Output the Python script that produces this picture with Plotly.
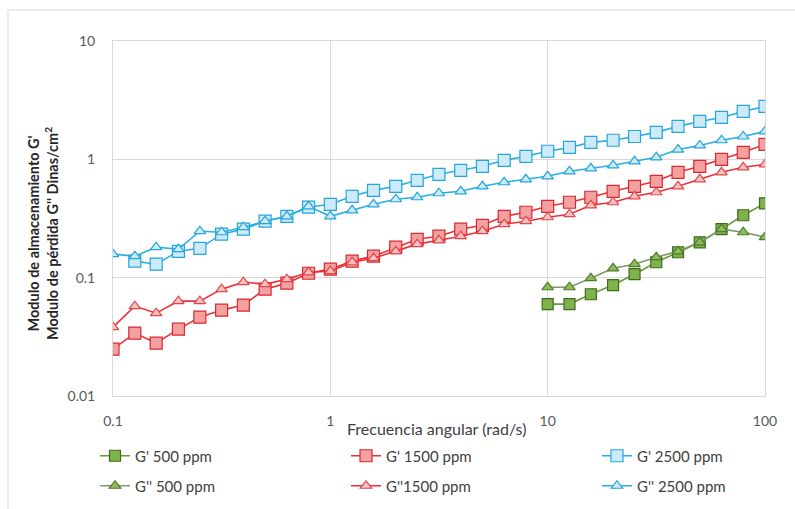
import plotly.graph_objects as go

# angular frequency grid (rad/s), 10 points per decade
freq_all = [0.1, 0.126, 0.158, 0.2, 0.251, 0.316, 0.398, 0.501, 0.631, 0.794,
            1.0, 1.26, 1.58, 2.0, 2.51, 3.16, 3.98, 5.01, 6.31, 7.94,
            10.0, 12.6, 15.8, 20.0, 25.1, 31.6, 39.8, 50.1, 63.1, 79.4, 100.0]

freq_500 = freq_all[20:]
freq_2500_gp = freq_all[1:]

gp_500 = [0.0598, 0.0598, 0.0724, 0.0866, 0.107, 0.135, 0.164, 0.199, 0.257, 0.337, 0.425]
gpp_500 = [0.083, 0.083, 0.099, 0.12, 0.13, 0.149, 0.167, 0.199, 0.257, 0.242, 0.22]

gp_1500 = [0.0249, 0.0340, 0.0280, 0.0367, 0.0464, 0.0532, 0.0586, 0.0800, 0.0899, 0.109,
           0.118, 0.138, 0.152, 0.181, 0.211, 0.224, 0.257, 0.277, 0.330, 0.357,
           0.401, 0.434, 0.478, 0.537, 0.592, 0.652, 0.777, 0.873, 1.0, 1.146, 1.338]
gpp_1500 = [0.0382, 0.0575, 0.0501, 0.0633, 0.0633, 0.0800, 0.0916, 0.0882, 0.0971, 0.111,
            0.1135, 0.135, 0.146, 0.167, 0.192, 0.207, 0.224, 0.247, 0.283, 0.300,
            0.324, 0.344, 0.409, 0.434, 0.487, 0.527, 0.592, 0.678, 0.777, 0.856, 0.907]

gp_2500 = [0.138, 0.130, 0.167, 0.177, 0.233, 0.257, 0.300, 0.330, 0.394, 0.417,
           0.487, 0.547, 0.592, 0.665, 0.747, 0.808, 0.873, 0.981, 1.06, 1.17,
           1.26, 1.39, 1.45, 1.56, 1.69, 1.90, 2.09, 2.26, 2.54, 2.80]
gpp_2500 = [0.158, 0.152, 0.181, 0.174, 0.247, 0.242, 0.267, 0.300, 0.330, 0.401,
            0.330, 0.371, 0.417, 0.460, 0.478, 0.517, 0.537, 0.592, 0.640, 0.678,
            0.719, 0.792, 0.840, 0.890, 0.962, 1.04, 1.21, 1.31, 1.45, 1.56, 1.72]

x_ticks = [0.1, 1, 10, 100]
x_tick_text = ["0.1", "1", "10", "100"]
y_ticks = [0.01, 0.1, 1, 10]
y_tick_text = ["0.01", "0.1", "1", "10"]

series = [
    ("G' 500 ppm", freq_500, gp_500, "square", "#6a9a3a", "#7fb24a", "#3f6b1f", 11),
    ("G' 1500 ppm", freq_all, gp_1500, "square", "#ee2f36", "#f2a0a0", "#d9282f", 12),
    ("G' 2500 ppm", freq_2500_gp, gp_2500, "square", "#27b0e6", "#cdeaf8", "#27a4d8", 12),
    ("G'' 500 ppm", freq_500, gpp_500, "triangle-up", "#7d9a68", "#8fbc5a", "#4d7a2a", 10),
    ("G''1500 ppm", freq_all, gpp_1500, "triangle-up", "#ee2f36", "#f7c0c0", "#e0474c", 10),
    ("G'' 2500 ppm", freq_all, gpp_2500, "triangle-up", "#27b0e6", "#cdeaf8", "#27a4d8", 10),
]

# plot area in pixels: left 113, right 765, top 41, bottom 396
PL, PR, PT, PB = 113, 765, 41, 396
def px_x(x):
    return (x - PL) / (PR - PL)
def px_y(y):
    return (PB - y) / (PB - PT)

legend_pos = [(95, 456), (346, 456), (597, 456), (95, 486), (346, 486), (597, 486)]

fig = go.Figure()
legend_layouts = {}
for i, (name, xs, ys, sym, lc, fc, ec, sz) in enumerate(series):
    lid = "legend" if i == 0 else f"legend{i+1}"
    fig.add_trace(go.Scatter(
        x=xs, y=ys, name=name, mode="lines+markers", legend=lid,
        line=dict(color=lc, width=1.6),
        marker=dict(symbol=sym, size=sz, color=fc, line=dict(color=ec, width=1.2)),
    ))
    lx, ly = legend_pos[i]
    legend_layouts[lid] = dict(
        orientation="h", x=px_x(lx), xanchor="left", y=px_y(ly), yanchor="middle",
        font=dict(size=15, color="#404040"), itemwidth=30, bgcolor="rgba(0,0,0,0)",
    )

grid = "#d9d9d9"
fig.update_layout(
    width=795, height=509,
    margin=dict(l=PL, r=795 - PR, t=PT, b=509 - PB, autoexpand=False),
    paper_bgcolor="white", plot_bgcolor="white",
    font=dict(family="Lato, 'Liberation Sans', sans-serif", size=14, color="#404040"),
    showlegend=True,
    xaxis=dict(type="log", range=[-1, 2], tickvals=x_ticks, ticktext=x_tick_text,
               showgrid=True, gridcolor=grid, gridwidth=1, zeroline=False,
               showline=True, linecolor=grid, mirror=True, ticks="",
               ticklabelstandoff=12,
               tickfont=dict(size=14, color="#595959")),
    yaxis=dict(type="log", range=[-2, 1], tickvals=y_ticks, ticktext=y_tick_text,
               showgrid=True, gridcolor=grid, gridwidth=1, zeroline=False,
               showline=True, linecolor=grid, mirror=True, ticks="",
               ticklabelstandoff=14,
               tickfont=dict(size=14, color="#595959")),
    annotations=[
        dict(text="Frecuencia angular (rad/s)", xref="paper", yref="paper",
             x=px_x(436), y=px_y(428), xanchor="center", yanchor="middle", showarrow=False,
             font=dict(size=16, color="#404040")),
        dict(text="<b>Modulo de almacenamiento G'<br>Modulo de pérdida G'' Dinas/cm<sup>2</sup></b>",
             xref="paper", yref="paper", x=px_x(43), y=px_y(234), xanchor="center", yanchor="middle",
             textangle=-90, showarrow=False, font=dict(size=14.5, color="#262626")),
    ],
    shapes=[
        dict(type="rect", xref="paper", yref="paper", x0=px_x(8), x1=1.2, y0=-0.5, y1=px_y(10),
             line=dict(color="#d9d9d9", width=1), fillcolor="rgba(0,0,0,0)", layer="below"),
    ],
    **legend_layouts,
)

fig.write_html("out.html")
